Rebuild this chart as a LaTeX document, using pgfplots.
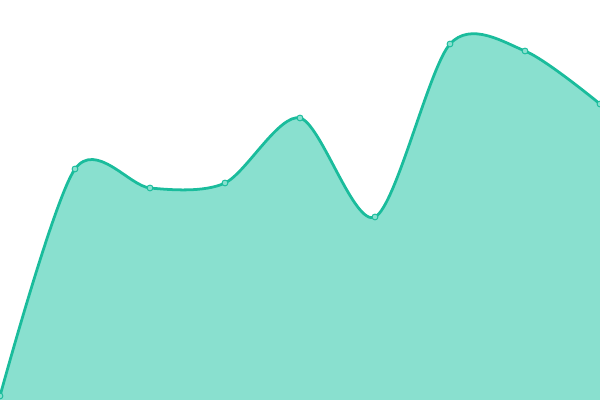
\documentclass[border=0pt]{standalone}
\usepackage{pgfplots}
\pgfplotsset{compat=1.18}
\definecolor{lineC}{HTML}{1ABC9C}
\definecolor{fillC}{HTML}{89E0CF}
\begin{document}
\begin{tikzpicture}
\begin{axis}[
  width=6in, height=4in, scale only axis,
  hide axis, clip=true,
  xmin=0, xmax=8, ymin=0, ymax=400,
]
\addplot[draw=none, fill=fillC, smooth, tension=0.5] coordinates {
  (0,4) (1,231) (2,212) (3,217) (4,282) (5,183) (6,356) (7,349) (8,296)
} \closedcycle;
\addplot[lineC, line width=2pt, smooth, tension=0.5,
  mark=*, mark size=2.1pt,
  mark options={fill=fillC, draw=lineC, line width=0.7pt}] coordinates {
  (0,4) (1,231) (2,212) (3,217) (4,282) (5,183) (6,356) (7,349) (8,296)
};
\end{axis}
\pgfresetboundingbox
\useasboundingbox (current axis.south west) rectangle (current axis.north east);
\end{tikzpicture}
\end{document}
